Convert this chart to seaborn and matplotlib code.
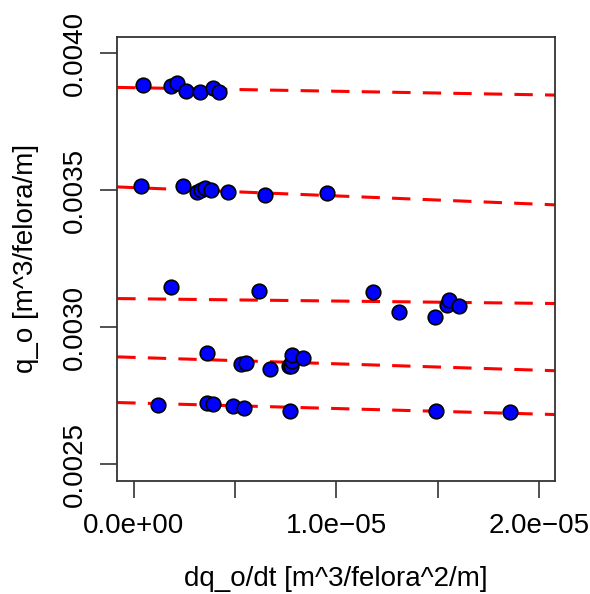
import numpy as np
import pandas as pd
import seaborn as sns
import matplotlib.pyplot as plt

# --- data (x in units of 1e-6) ---
x_g1 = [0.46, 1.87, 2.12, 2.61, 3.27, 3.93, 4.21]
y_g1 = [0.003884, 0.003881, 0.003891, 0.003862, 0.003857, 0.003872, 0.003860]

x_g2 = [0.38, 2.42, 3.11, 3.31, 3.52, 3.83, 4.64, 6.46, 9.52]
y_g2 = [0.003515, 0.003516, 0.003492, 0.003501, 0.003507, 0.003501, 0.003494, 0.003482, 0.003489]

x_g3 = [1.87, 6.17, 11.81, 13.07, 14.87, 15.44, 15.56, 16.05]
y_g3 = [0.003147, 0.003133, 0.003127, 0.003056, 0.003039, 0.003080, 0.003099, 0.003078]

x_g4 = [3.63, 5.28, 5.53, 6.73, 7.66, 7.78, 7.83, 7.84, 8.34]
y_g4 = [0.002905, 0.002865, 0.002868, 0.002849, 0.002859, 0.002857, 0.002877, 0.002898, 0.002886]

x_g5 = [1.20, 3.63, 3.90, 4.93, 5.46, 7.73, 14.90, 18.56]
y_g5 = [0.002718, 0.002723, 0.002720, 0.002713, 0.002706, 0.002695, 0.002693, 0.002691]

# fitted lines (intercept at x=0, slope)
intercepts = [0.003874, 0.0035095, 0.003104, 0.00289, 0.0027237]
slopes = [-1.3, -3.03, -0.84, -2.34, -2.03]

x_ticks = [0, 5e-6, 1e-5, 1.5e-5, 2e-5]
x_ticklabels = ["0.0e+00", "", "1.0e\u221205", "", "2.0e\u221205"]
y_ticks = [0.0025, 0.0030, 0.0035, 0.0040]
y_ticklabels = ["0.0025", "0.0030", "0.0035", "0.0040"]

# --- build table ---
frames = []
for i, (xs, ys) in enumerate([(x_g1, y_g1), (x_g2, y_g2), (x_g3, y_g3), (x_g4, y_g4), (x_g5, y_g5)]):
    frames.append(pd.DataFrame({"dq": np.array(xs) * 1e-6, "q": ys, "group": i}))
df = pd.concat(frames, ignore_index=True)

sns.set_style("ticks")
plt.rcParams["font.family"] = ["Liberation Sans", "DejaVu Sans"]
plt.rcParams["text.color"] = "black"
plt.rcParams["axes.labelcolor"] = "black"
plt.rcParams["xtick.labelcolor"] = "black"
plt.rcParams["ytick.labelcolor"] = "black"

fig = plt.figure(figsize=(5.9, 5.94), dpi=100)
ax = fig.add_axes([0.1988, 0.1907, 0.7424, 0.7475])

xlim = (0 - 0.04 * 2e-5, 2e-5 + 0.04 * 2e-5)
ylim = (0.0025 - 0.04 * 0.0015, 0.004 + 0.04 * 0.0015)

# regression lines over the full x range
line_x = np.array(xlim)
for b, m in zip(intercepts, slopes):
    ax.plot(line_x, b + m * line_x, color="red", lw=2.2, dashes=(6, 4), zorder=2)

sns.scatterplot(data=df, x="dq", y="q", color="blue", edgecolor="black",
                linewidth=1.2, s=110, ax=ax, zorder=3, legend=False)

ax.set_xlim(xlim)
ax.set_ylim(ylim)
ax.set_xticks(x_ticks)
ax.set_xticklabels(x_ticklabels)
ax.set_yticks(y_ticks)
ax.set_yticklabels(y_ticklabels, rotation=90, va="center")

ax.tick_params(axis="both", labelsize=20, length=12, width=1.2, color="#333333")
ax.tick_params(axis="x", pad=11)
ax.tick_params(axis="y", pad=9)
for s in ax.spines.values():
    s.set_visible(True)
    s.set_linewidth(1.3)
    s.set_color("#333333")

ax.set_xlabel("dq_o/dt [m^3/felora^2/m]", fontsize=20, labelpad=20)
ax.set_ylabel("q_o [m^3/felora/m]", fontsize=20, labelpad=17)

fig.savefig("out.png", dpi=100)
